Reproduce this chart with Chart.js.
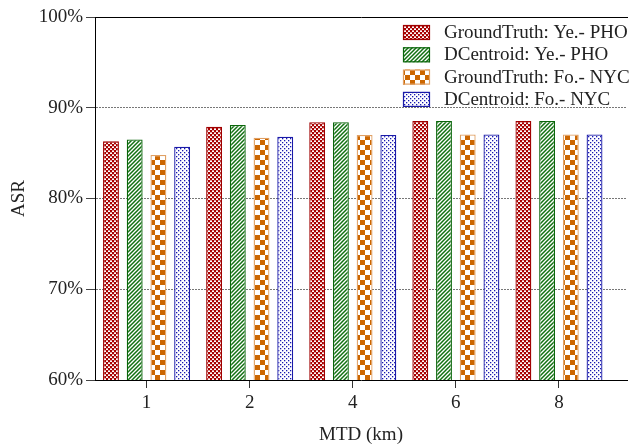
<!DOCTYPE html>
<html>
<head>
<meta charset="utf-8">
<script src="https://cdn.jsdelivr.net/npm/chart.js@4.4.1/dist/chart.umd.min.js"></script>
<style>
  html, body { margin: 0; padding: 0; background: #fff; }
  #wrap { width: 636px; height: 446px; }
</style>
</head>
<body>
<div id="wrap"><canvas id="asrChart" width="636" height="446"></canvas></div>
<script>
// ---- datos ----
const mtdLabels = ["1", "2", "4", "6", "8"];
const seriesNames = ["GroundTruth: Ye.- PHO", "DCentroid: Ye.- PHO", "GroundTruth: Fo.- NYC", "DCentroid: Fo.- NYC"];
const gtYePho = [86.3, 87.9, 88.4, 88.55, 88.55];
const dcYePho = [86.5, 88.1, 88.4, 88.55, 88.55];
const gtFoNyc = [84.8, 86.7, 87.0, 87.05, 87.05];
const dcFoNyc = [85.7, 86.8, 87.0, 87.05, 87.05];
const yTicks = [60, 70, 80, 90, 100];

const SERIF = "'Liberation Serif', 'Times New Roman', serif";
Chart.defaults.font.family = SERIF;
Chart.defaults.font.size = 19;
Chart.defaults.color = "#222";

const canvas = document.getElementById("asrChart");
const ctx = canvas.getContext("2d");

// patrones de relleno (tiles pequeños)
function makePattern(size, paint) {
  const c = document.createElement("canvas");
  c.width = size; c.height = size;
  const g = c.getContext("2d");
  g.fillStyle = "#fff";
  g.fillRect(0, 0, size, size);
  paint(g, size);
  return ctx.createPattern(c, "repeat");
}

const redChecks = makePattern(4, (g) => {
  g.fillStyle = "#a80000";
  g.fillRect(0, 0, 4, 4);
  g.fillStyle = "#fff";
  g.fillRect(0, 2, 2, 2);
  g.fillRect(2, 0, 2, 2);
  g.fillStyle = "#c04040";
  g.fillRect(0, 2, 2, 0.5);
  g.fillRect(2, 0, 2, 0.5);
});
const greenHatch = makePattern(4, (g, s) => {
  g.strokeStyle = "#117011";
  g.lineWidth = 1.5;
  g.beginPath();
  g.moveTo(0, s); g.lineTo(s, 0);
  g.moveTo(-1, 1); g.lineTo(1, -1);
  g.moveTo(s - 1, s + 1); g.lineTo(s + 1, s - 1);
  g.stroke();
});
const orangeChecks = makePattern(10, (g) => {
  g.fillStyle = "#cc6600";
  g.fillRect(0, 0, 5, 5);
  g.fillRect(5, 5, 5, 5);
});
const blueDots = makePattern(4, (g) => {
  g.fillStyle = "#1818b0";
  g.fillRect(0, 0, 1.3, 1.3);
  g.fillRect(2, 2, 1.3, 1.3);
});

const fills = [redChecks, greenHatch, orangeChecks, blueDots];
const borders = ["#a00000", "#0a660a", "#e0a064", "#1a1aa8"];
const values = [gtYePho, dcYePho, gtFoNyc, dcFoNyc];

const datasets = seriesNames.map((name, i) => ({
  label: name,
  data: values[i].map((v, j) => ({ x: j + 1, y: v })),
  backgroundColor: fills[i],
  borderColor: borders[i],
  borderWidth: 1.3,
  borderSkipped: "start",
  categoryPercentage: 0.92,
  barPercentage: 0.67
}));

// leyenda dentro del área del gráfico
const insideLegend = {
  id: "insideLegend",
  afterDraw(chart) {
    const { ctx, chartArea } = chart;
    const x0 = chartArea.right - 224;
    const y0 = chartArea.top + 8;
    ctx.save();
    ctx.font = "19px " + SERIF;
    ctx.textBaseline = "middle";
    chart.data.datasets.forEach((ds, i) => {
      const y = y0 + i * 22.3;
      ctx.fillStyle = ds.backgroundColor;
      ctx.fillRect(x0, y, 27, 15);
      ctx.strokeStyle = ds.borderColor;
      ctx.lineWidth = 1.2;
      ctx.strokeRect(x0 + 0.5, y + 0.5, 26, 14);
      ctx.fillStyle = "#222";
      ctx.fillText(ds.label, x0 + 41, y + 8);
    });
    ctx.restore();
  }
};

new Chart(ctx, {
  type: "bar",
  data: { datasets },
  plugins: [insideLegend],
  options: {
    responsive: false,
    animation: false,
    layout: { padding: { top: 17, right: 9, left: 0, bottom: 0 } },
    plugins: { legend: { display: false }, tooltip: { enabled: false } },
    scales: {
      x: {
        type: "linear",
        position: "bottom",
        offset: false,
        min: 0.5,
        max: 5.66,
        afterBuildTicks: (s) => {
          s.ticks = s.ticks.filter(t => Number.isInteger(t.value) && t.value >= 1 && t.value <= mtdLabels.length);
        },
        afterFit: (s) => { s.height = 66; },
        ticks: { stepSize: 1, padding: 4, callback: (v) => mtdLabels[v - 1] },
        grid: { offset: false, drawOnChartArea: false, tickLength: 8, tickColor: "#333" },
        border: { color: "#000", width: 1 },
        title: { display: true, text: "MTD (km)", padding: { top: 0, bottom: 0 } }
      },
      xTop: {
        type: "linear",
        position: "top",
        offset: false,
        min: 0.5,
        max: 5.66,
        ticks: { display: false },
        grid: { display: false, drawTicks: false, offset: false },
        border: { color: "#000", width: 1 }
      },
      y: {
        min: yTicks[0],
        max: yTicks[yTicks.length - 1],
        afterBuildTicks: (s) => { s.ticks = yTicks.map(v => ({ value: v })); },
        afterFit: (s) => { s.width = 95; },
        ticks: { padding: 3, callback: (v) => v + "%" },
        grid: {
          tickLength: 9,
          tickColor: "#444",
          color: (c) => (c.tick && c.tick.value > yTicks[0] && c.tick.value < yTicks[yTicks.length - 1]) ? "#777" : "rgba(0,0,0,0)"
        },
        border: { color: "#000", width: 1, dash: [2, 1] },
        title: { display: true, text: "ASR", padding: { top: 8, bottom: 0 } }
      }
    }
  }
});
</script>
</body>
</html>
